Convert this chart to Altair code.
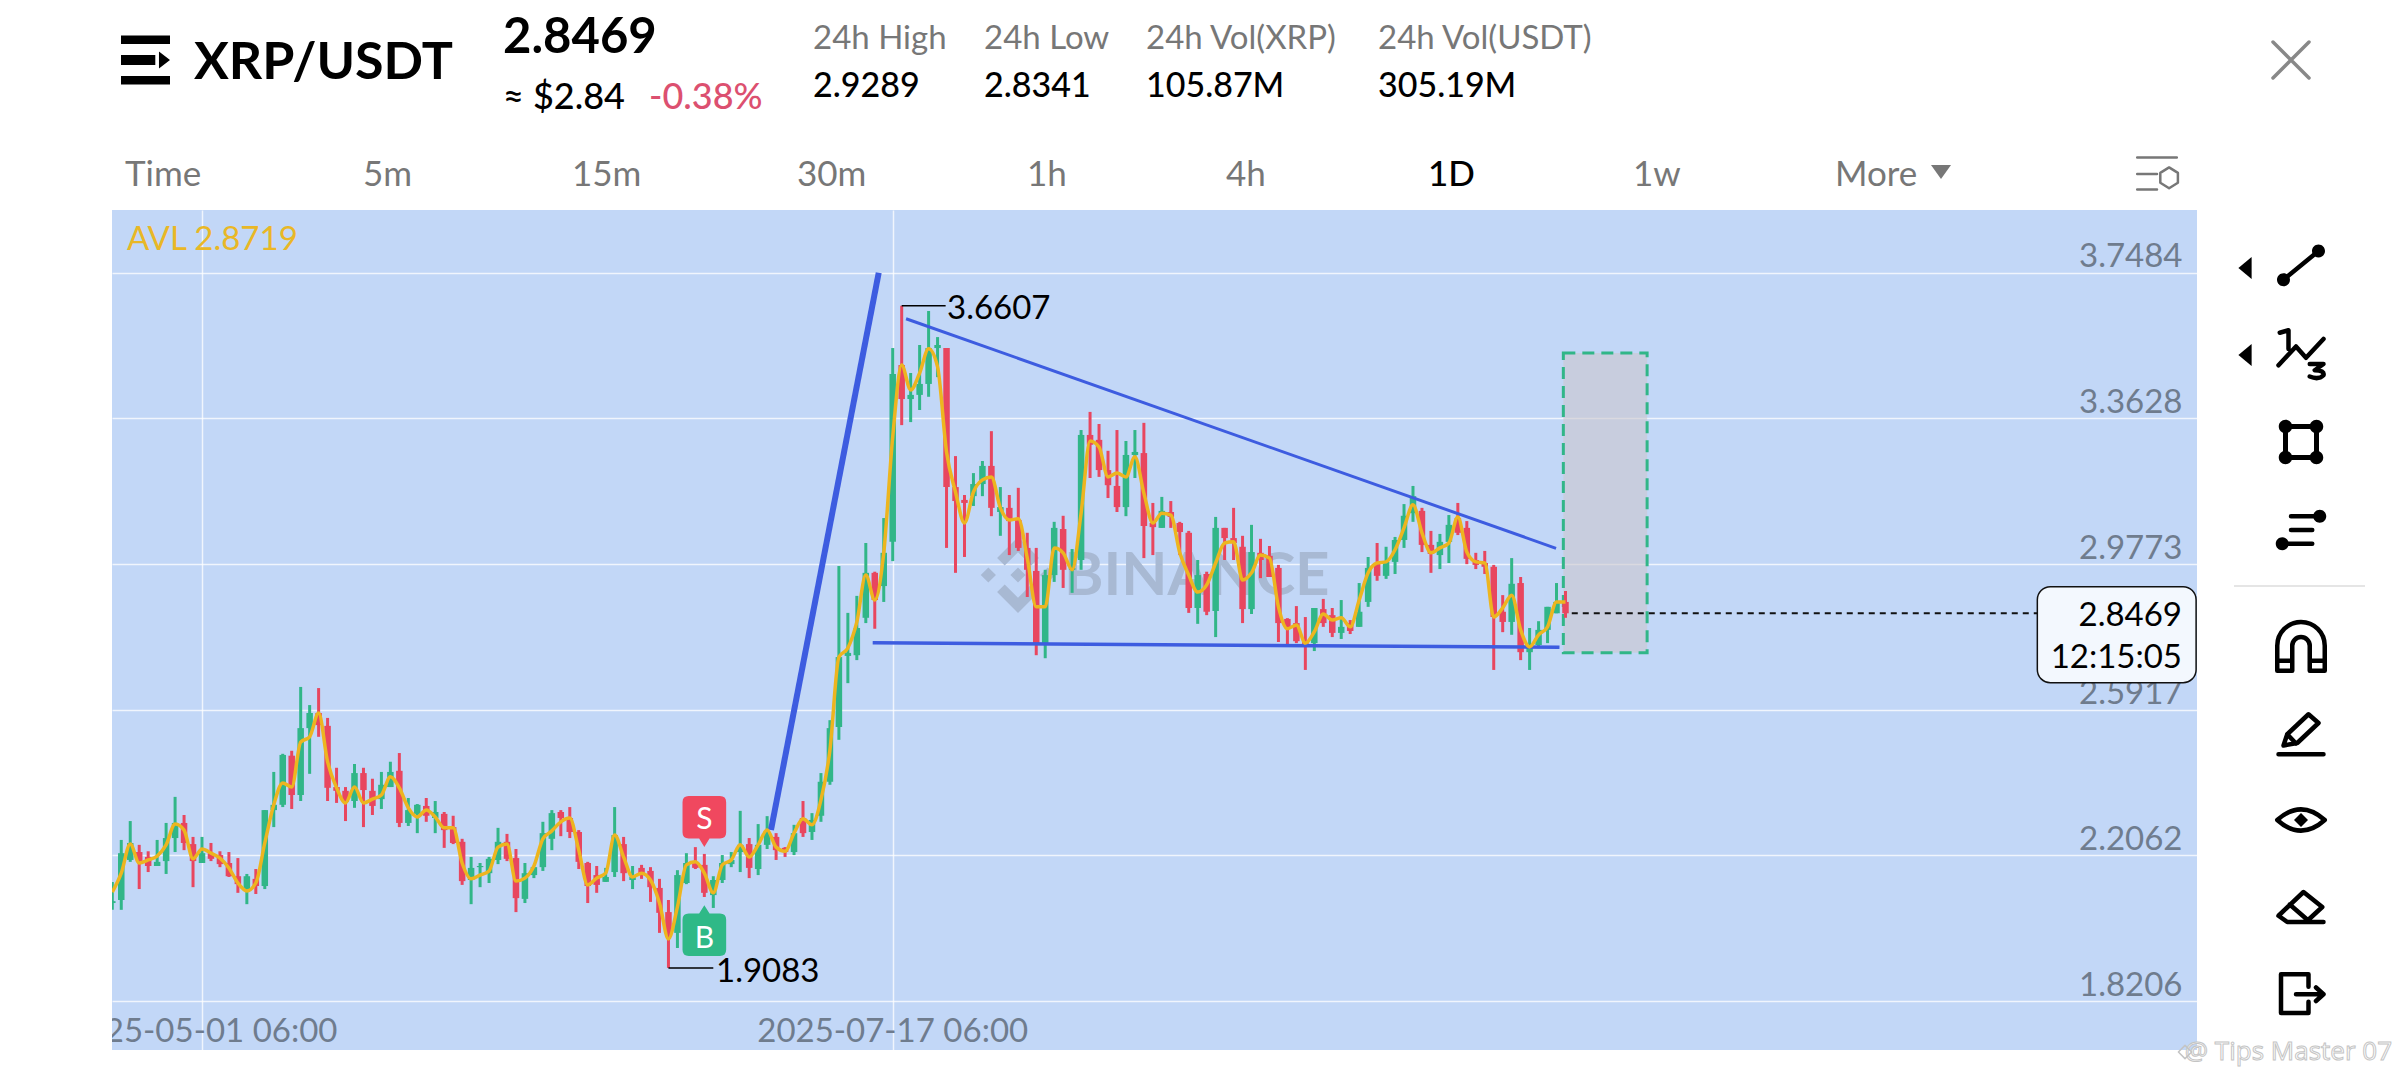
import altair as alt
import pandas as pd

# ---- values (one entry per daily candle, first day = 2025-04-21) ----
opens = [2.080,2.088,2.194,2.215,2.202,2.178,2.191,2.252,2.292,2.236,
2.186,2.212,2.207,2.186,2.151,2.115,2.144,2.125,2.326,2.340,
2.470,2.366,2.543,2.583,2.549,2.387,2.377,2.350,2.424,2.377,
2.355,2.387,2.430,2.292,2.316,2.337,2.305,2.316,2.281,2.242,
2.141,2.175,2.159,2.194,2.242,2.199,2.091,2.154,2.175,2.250,
2.321,2.305,2.268,2.186,2.154,2.136,2.162,2.236,2.141,2.173,
2.165,2.120,2.056,2.001,2.133,2.189,2.181,2.101,2.141,2.183,
2.215,2.236,2.170,2.234,2.255,2.226,2.215,2.305,2.268,2.311,
2.401,2.546,2.734,2.736,2.835,2.954,2.919,3.036,3.504,3.414,
3.425,3.454,3.549,3.549,3.181,3.147,3.157,3.189,3.237,3.115,
3.126,3.094,3.020,2.959,2.768,2.948,3.070,2.962,2.988,3.319,
3.306,3.226,3.184,3.128,3.266,3.271,3.086,3.073,3.115,3.086,
3.060,2.861,2.951,2.853,3.073,3.046,3.023,2.858,3.007,2.999,
2.967,2.832,2.821,2.773,2.768,2.858,2.842,2.795,2.821,2.811,
2.877,2.980,2.946,2.983,3.041,3.112,3.118,3.028,3.001,3.036,
3.099,3.073,2.988,2.980,2.970,2.851,2.824,2.927,2.744,2.763,
2.803,2.847,2.877]
closes = [2.085,2.212,2.239,2.189,2.178,2.189,2.252,2.292,2.239,2.191,
2.212,2.197,2.183,2.151,2.130,2.151,2.125,2.326,2.340,2.472,
2.366,2.543,2.583,2.551,2.385,2.377,2.348,2.424,2.379,2.337,
2.393,2.427,2.292,2.326,2.340,2.311,2.321,2.273,2.239,2.138,
2.173,2.178,2.197,2.242,2.197,2.093,2.159,2.175,2.265,2.318,
2.305,2.268,2.189,2.125,2.128,2.149,2.260,2.159,2.149,2.157,
2.122,2.054,1.990,2.154,2.186,2.173,2.107,2.141,2.186,2.194,
2.234,2.173,2.234,2.268,2.220,2.215,2.265,2.265,2.300,2.401,
2.543,2.731,2.742,2.808,2.954,2.882,3.007,3.480,3.414,3.425,
3.454,3.549,3.557,3.181,3.144,3.139,3.189,3.237,3.126,3.128,
3.091,3.020,2.962,2.768,2.948,3.073,2.962,2.967,3.319,3.293,
3.226,3.186,3.128,3.266,3.274,3.078,3.075,3.118,3.102,3.062,
2.861,2.948,2.851,3.073,3.046,3.033,2.858,3.009,2.988,2.943,
2.821,2.808,2.773,2.763,2.861,2.821,2.795,2.811,2.800,2.851,
2.967,2.946,2.983,3.041,3.105,3.157,3.028,3.004,3.036,3.081,
3.060,2.991,2.975,2.970,2.837,2.824,2.925,2.744,2.763,2.803,
2.864,2.877,2.8469]
highs = [2.136,2.247,2.297,2.234,2.217,2.247,2.292,2.361,2.313,2.255,
2.255,2.239,2.217,2.215,2.199,2.157,2.170,2.326,2.427,2.475,
2.483,2.652,2.604,2.649,2.570,2.438,2.387,2.448,2.438,2.409,
2.427,2.454,2.477,2.358,2.342,2.358,2.350,2.321,2.311,2.250,
2.202,2.186,2.202,2.279,2.263,2.223,2.186,2.175,2.295,2.326,
2.326,2.334,2.273,2.189,2.178,2.173,2.334,2.255,2.178,2.181,
2.175,2.144,2.088,2.167,2.212,2.228,2.210,2.151,2.207,2.215,
2.324,2.252,2.289,2.310,2.265,2.228,2.287,2.350,2.318,2.424,
2.564,2.972,2.848,2.893,3.033,2.957,3.099,3.549,3.661,3.483,
3.557,3.647,3.578,3.549,3.263,3.160,3.218,3.250,3.329,3.181,
3.160,3.179,3.060,3.020,2.962,3.089,3.105,3.017,3.332,3.380,
3.348,3.277,3.332,3.303,3.332,3.351,3.139,3.155,3.144,3.089,
3.065,2.988,2.957,3.102,3.073,3.126,3.052,3.081,3.044,3.025,
2.975,2.834,2.866,2.837,2.861,2.885,2.861,2.882,2.829,2.927,
2.996,3.033,3.023,3.049,3.136,3.184,3.126,3.065,3.057,3.107,
3.139,3.091,3.007,3.012,2.975,2.895,2.993,2.943,2.808,2.826,
2.864,2.927,2.906]
lows = [2.062,2.062,2.189,2.117,2.162,2.178,2.157,2.215,2.220,2.122,
2.186,2.191,2.175,2.149,2.107,2.077,2.104,2.117,2.281,2.334,
2.329,2.350,2.422,2.520,2.350,2.345,2.297,2.332,2.281,2.313,
2.329,2.387,2.281,2.284,2.265,2.295,2.265,2.226,2.236,2.128,
2.077,2.122,2.133,2.183,2.191,2.056,2.080,2.146,2.165,2.220,
2.257,2.252,2.170,2.080,2.107,2.136,2.149,2.138,2.117,2.144,
2.083,2.001,1.9083,1.961,2.130,2.170,2.096,2.067,2.133,2.175,
2.162,2.146,2.154,2.223,2.194,2.202,2.207,2.255,2.247,2.295,
2.393,2.512,2.662,2.723,2.821,2.806,2.877,2.985,3.345,3.353,
3.385,3.420,3.472,3.020,2.954,2.996,3.131,3.157,3.104,3.052,
3.001,3.012,2.890,2.736,2.728,2.930,2.914,2.901,2.962,3.205,
3.208,3.152,3.115,3.104,3.205,2.993,3.001,3.073,3.073,3.001,
2.848,2.819,2.842,2.784,2.988,2.988,2.821,2.845,2.940,2.943,
2.771,2.763,2.768,2.697,2.747,2.811,2.784,2.779,2.792,2.811,
2.864,2.933,2.938,2.951,3.020,3.089,3.009,2.954,2.964,2.980,
3.054,2.977,2.964,2.951,2.697,2.797,2.790,2.723,2.697,2.760,
2.768,2.847,2.835]
avl = [2.109,2.159,2.236,2.186,2.194,2.204,2.234,2.289,2.273,2.197,
2.223,2.212,2.199,2.173,2.133,2.112,2.133,2.239,2.340,2.398,
2.387,2.506,2.520,2.583,2.454,2.385,2.345,2.387,2.345,2.355,
2.366,2.414,2.385,2.332,2.308,2.326,2.308,2.279,2.279,2.186,
2.144,2.154,2.165,2.228,2.236,2.138,2.146,2.178,2.250,2.271,
2.295,2.305,2.220,2.128,2.146,2.159,2.260,2.202,2.149,2.159,
2.141,2.080,1.985,2.070,2.181,2.189,2.159,2.107,2.181,2.194,
2.234,2.202,2.234,2.273,2.228,2.217,2.265,2.303,2.287,2.353,
2.485,2.731,2.755,2.824,2.948,2.882,3.007,3.314,3.504,3.438,
3.483,3.547,3.499,3.274,3.168,3.086,3.168,3.200,3.208,3.126,
3.094,3.097,2.993,2.864,2.864,3.020,3.007,2.962,3.112,3.303,
3.287,3.208,3.218,3.208,3.261,3.165,3.086,3.112,3.107,3.007,
2.948,2.903,2.922,2.980,3.033,3.036,2.935,2.954,3.001,2.993,
2.864,2.806,2.816,2.768,2.798,2.845,2.829,2.835,2.811,2.882,
2.954,2.980,2.983,3.015,3.073,3.134,3.060,3.007,3.020,3.033,
3.102,3.009,2.983,2.980,2.837,2.861,2.895,2.803,2.758,2.790,
2.811,2.877,2.877]
days = list(range(-10, 153))

price_ticks = [3.7484, 3.3628, 2.9773, 2.5917, 2.2062, 1.8206]
time_ticks = [0, 77]
time_labels = ["2025-05-01 06:00", "2025-07-17 06:00"]
last_price = 2.8469
high_point = 3.6607
low_point = 1.9083

# drawn objects, in day / price units
thick_x, thick_y = [63.43, 75.44], [2.2733, 3.7484]
upper_x, upper_y = [78.49, 150.95], [3.6266, 3.0189]
lower_x, lower_y = [74.77, 151.33], [2.7691, 2.7568]
box = dict(x=151.76, x2=161.1, y=2.7426, y2=3.5358)
price_tag = dict(x=204.6, x2=222.3, y=2.6632, y2=2.9173)

# ---- layout ----
FONT = "Lato"
L, T, W, H = 112, 210, 2085, 840
GREEN, RED, BLUE, YEL = "#31B688", "#E8465F", "#3D5CE0", "#EDB51F"
xs = alt.Scale(domain=[-10.033, 222.4], nice=False, zero=False)
ys = alt.Scale(domain=[1.691, 3.9144], nice=False, zero=False)
one = pd.DataFrame({"a": [0]})

x_axis = alt.Axis(values=time_ticks, labels=False, ticks=False, domain=False, title=None,
                  grid=True, gridColor="#FFFFFF", gridOpacity=0.75, gridWidth=1.5)
y_axis = alt.Axis(orient="right", values=price_ticks, format=".4f", ticks=False, domain=False, title=None,
                  grid=True, gridColor="#FFFFFF", gridOpacity=0.75, gridWidth=1.5,
                  labelAlign="right", labelBaseline="bottom", labelPadding=-15, labelOffset=1,
                  labelFont=FONT, labelFontSize=33, labelColor="#6F7C8E")


def X(name="x"):
    return alt.X(f"{name}:Q", scale=xs, axis=x_axis)


def Y(name="y"):
    return alt.Y(f"{name}:Q", scale=ys, axis=y_axis)


def label(text, px, py, size=33, color="#000000", weight=400, align="left", font=FONT, **kw):
    return alt.Chart(pd.DataFrame({"t": [text]})).mark_text(
        font=font, fontSize=size, fontWeight=weight, color=color, align=align, baseline="alphabetic", **kw
    ).encode(x=alt.value(px - L), y=alt.value(py - T), text="t:N")


def dot(cx, cy, r):
    return f"M{cx-r} {cy}A{r} {r} 0 1 0 {cx+r} {cy}A{r} {r} 0 1 0 {cx-r} {cy}Z"


def icon(path, px, py, px_size=50, color="#000000", fill=False, sw=4.5):
    kw = dict(filled=True, color=color, strokeWidth=0) if fill else dict(filled=False, color=color, strokeWidth=sw)
    return alt.Chart(one).mark_point(shape=path, size=px_size ** 2, opacity=1, strokeJoin="round", strokeCap="round", **kw).encode(
        x=alt.value(px - L), y=alt.value(py - T)
    )


candles = pd.DataFrame({"day": days, "o": opens, "c": closes, "h": highs, "l": lows, "avl": avl})
candles["side"] = ["up" if c >= o else "down" for o, c in zip(opens, closes)]
color_enc = alt.Color("side:N", scale=alt.Scale(domain=["up", "down"], range=[GREEN, RED]), legend=None)

layers = []

# watermark
layers.append(icon("M0 -.2L.2 0L0 .2L-.2 0Z M-.78 -.2L-.58 0L-.78 .2L-.98 0Z M.78 -.2L.98 0L.78 .2L.58 0Z"
                   "M0 -1L.55 -.45L.35 -.25L0 -.6L-.35 -.25L-.55 -.45Z M0 1L.55 .45L.35 .25L0 .6L-.35 .25L-.55 .45Z",
                   1018, 575, 76, "#A8B9D3", fill=True))
layers.append(label("BINANCE", 1064, 595, 60, "#A8B9D3", 700))

# forecast box
layers.append(alt.Chart(pd.DataFrame([box])).mark_rect(
    fill="#CCC6CD", fillOpacity=0.6, stroke=GREEN, strokeWidth=3, strokeDash=[12, 7]
).encode(x=X("x"), x2="x2:Q", y=Y("y"), y2="y2:Q"))

# candles
layers.append(alt.Chart(candles).mark_rule(strokeWidth=3, clip=True).encode(x=X("day"), y=Y("l"), y2="h:Q", color=color_enc))
layers.append(alt.Chart(candles).mark_rule(strokeWidth=6.5, clip=True).encode(x=X("day"), y=Y("o"), y2="c:Q", color=color_enc))

# drawn trend lines
for xv, yv, sw in [(thick_x, thick_y, 6), (upper_x, upper_y, 3), (lower_x, lower_y, 3.5)]:
    layers.append(alt.Chart(pd.DataFrame({"x": xv, "y": yv})).mark_line(color=BLUE, strokeWidth=sw).encode(x=X(), y=Y()))

# AVL line
layers.append(alt.Chart(candles).mark_line(color=YEL, strokeWidth=3.5, interpolate="monotone", clip=True).encode(x=X("day"), y=Y("avl")))

# high / low leader labels
for d0, d1, p, tx, ty in [(78, 82.9, high_point, 947, 319), (52, 57.0, low_point, 716, 982)]:
    layers.append(alt.Chart(pd.DataFrame({"x": [d0], "x2": [d1], "y": [p]})).mark_rule(color="#000000", strokeWidth=1.5).encode(
        x=X("x"), x2="x2:Q", y=Y("y")))
    layers.append(label(f"{p:.4f}", tx, ty, 33, "#000000"))

# last price line and tag
layers.append(alt.Chart(pd.DataFrame({"x": [152.7], "x2": [price_tag["x"]], "y": [last_price]})).mark_rule(
    color="#111111", strokeWidth=2, strokeDash=[6, 5]).encode(x=X("x"), x2="x2:Q", y=Y("y")))
layers.append(alt.Chart(pd.DataFrame([price_tag])).mark_rect(fill="#F3F8FE", stroke="#111111", strokeWidth=1.5, cornerRadius=13).encode(
    x=X("x"), x2="x2:Q", y=Y("y"), y2="y2:Q"))
layers.append(label(f"{last_price:.4f}", 2182, 626, 33, align="right"))
layers.append(label("12:15:05", 2182, 668, 33, align="right"))

# S / B markers
s_path = "M-.6 -.98H.6Q.84 -.98 .84 -.74V.42Q.84 .66 .6 .66H.2L0 .98L-.2 .66H-.6Q-.84 .66 -.84 .42V-.74Q-.84 -.98 -.6 -.98Z"
b_path = "M-.6 .98H.6Q.84 .98 .84 .74V-.42Q.84 -.66 .6 -.66H.2L0 -.98L-.2 -.66H-.6Q-.84 -.66 -.84 -.42V.74Q-.84 .98 -.6 .98Z"
for txt, shape, col, pm, pt in [("S", s_path, "#F0485F", 2.296, 2.277), ("B", b_path, "#2FB987", 2.007, 1.962)]:
    frame = pd.DataFrame({"x": [56], "y": [pm], "yt": [pt], "t": [txt]})
    layers.append(alt.Chart(frame).mark_point(shape=shape, size=2700, filled=True, opacity=1, color=col, strokeWidth=0).encode(x=X(), y=Y()))
    layers.append(alt.Chart(frame).mark_text(font=FONT, fontSize=30, color="#FFFFFF", baseline="alphabetic").encode(x=X(), y=Y("yt"), text="t:N"))

# text inside plot
layers.append(label("AVL 2.8719", 127, 250, 33, "#E9B726"))
layers.append(alt.Chart(pd.DataFrame({"x": time_ticks, "t": time_labels})).mark_text(
    font=FONT, fontSize=33, color="#6F7C8E", baseline="alphabetic", clip=True
).encode(x=X(), y=alt.value(1042 - T), text="t:N"))

# header
layers.append(icon("M-1 -1H1V-.65H-1Z M-1 -.2H.4V.2H-1Z M.55 -.35L1 0L.55 .35Z M-1 .65H1V1H-1Z", 145.5, 60, 49, fill=True))
layers.append(label("XRP/USDT", 194, 79, 52, weight=700))
layers.append(label("2.8469", 503, 53, 49, weight=700))
layers.append(label("\u2248 $2.84", 503, 109, 36, weight=500))
layers.append(label("-0.38%", 649, 109, 36, "#DC5070", 500))
stat_heads = ["24h High", "24h Low", "24h Vol(XRP)", "24h Vol(USDT)"]
stat_vals = ["2.9289", "2.8341", "105.87M", "305.19M"]
for px, head, val in zip([813, 984, 1146, 1378], stat_heads, stat_vals):
    layers.append(label(head, px, 49, 33, "#777777"))
    layers.append(label(val, px, 97, 34, weight=500))

tabs = ["Time", "5m", "15m", "30m", "1h", "4h", "1D", "1w", "More"]
for px, tab in zip([125, 363, 572, 797, 1027, 1226, 1428, 1633, 1835], tabs):
    layers.append(label(tab, px, 186, 35, "#000000" if tab == "1D" else "#777777", 500 if tab == "1D" else 400))
layers.append(icon("M-1 -.7H1L0 .7Z", 1941, 172, 20, "#777777", fill=True))
layers.append(icon("M-.9 -.75H.9M-.9 0H0M-.9 .7H0M.55 -.3L.95 -.05V.4L.55 .65L.15 .4V-.05Z", 2157, 174, 44, "#777777", sw=2.5))
layers.append(icon("M-1 -1L1 1M-1 1L1 -1", 2291, 60, 36, "#888888", sw=3.5))

# right toolbar
for py in [268, 355]:
    layers.append(icon("M-.6 0L.6 -1V1Z", 2245, py, 22, fill=True))
tx = 2301
layers.append(icon("M-.7 .55L.7 -.6", tx, 266))
layers.append(icon(dot(-.7, .55, .26) + dot(.7, -.6, .26), tx, 266, fill=True))
layers.append(icon("M-.9 .45L-.2 -.3L.2 .15L.9 -.6M-.85 -.85L-.5 -.95V-.2M.35 .4H.9L.55 .65Q.95 .65 .9 .85Q.7 1.05 .35 .9", tx, 354))
layers.append(icon("M-.62 -.62H.62V.62H-.62Z", tx, 442, sw=5))
layers.append(icon(dot(-.62, -.62, .27) + dot(.62, -.62, .27) + dot(.62, .62, .27) + dot(-.62, .62, .27), tx, 442, fill=True))
layers.append(icon("M-.4 -.55H.6M-.4 0H.45M-.7 .55H.45", tx, 530))
layers.append(icon(dot(.75, -.55, .26) + dot(-.75, .55, .26), tx, 530, fill=True))
layers.append(alt.Chart(one).mark_rule(color="#DDDDDD", strokeWidth=1.5).encode(
    x=alt.value(2234 - L), x2=alt.value(2365 - L), y=alt.value(586 - T)))
layers.append(icon("M-.95 .95V-.05A.95 .95 0 0 1 .95 -.05V.95H.35V-.05A.35 .35 0 0 0 -.35 -.05V.95ZM-.95 .55H-.35M.35 .55H.95", tx, 647))
layers.append(icon("M-.7 .5L-.55 .05L.3 -.75L.7 -.4L-.15 .4ZM-.55 .05L-.2 .42M-.9 .85H.9", tx, 733))
layers.append(icon("M-.95 0Q0 -.85 .95 0Q0 .85 -.95 0Z", tx, 820))
layers.append(icon("M0 -.28L.28 0L0 .28L-.28 0Z", tx, 820, fill=True))
layers.append(icon("M-.9 .35L.1 -.6L.85 0L.2 .6H-.55ZM-.45 -.1L.3 .55M.2 .6H.9", tx, 907))
layers.append(icon("M.3 -.25V-.75H-.8V.8H.3V.35M-.2 .05H.9M.6 -.22L.9 .05L.6 .32", tx, 993))

# corner watermark
layers.append(label("@ Tips Master 07", 2392, 1060, 26, "#FFFFFF", align="right", font="Open Sans", stroke="#C4C4C4", strokeWidth=1))
layers.append(icon("M0 -.6L.6 0L0 .6L-.6 0Z", 2185, 1052, 22, "#C4C4C4", sw=1.5))

chart = alt.layer(*layers).properties(
    width=W, height=H,
    padding={"left": L - 8, "top": T - 8, "right": 2392 - L - W, "bottom": 21},
    autosize=alt.AutoSizeParams(type="none"),
    background="#FFFFFF",
).configure_view(fill="#C2D7F7", stroke=None)

chart.save("out.html", embed_options={"renderer": "svg", "actions": False})
